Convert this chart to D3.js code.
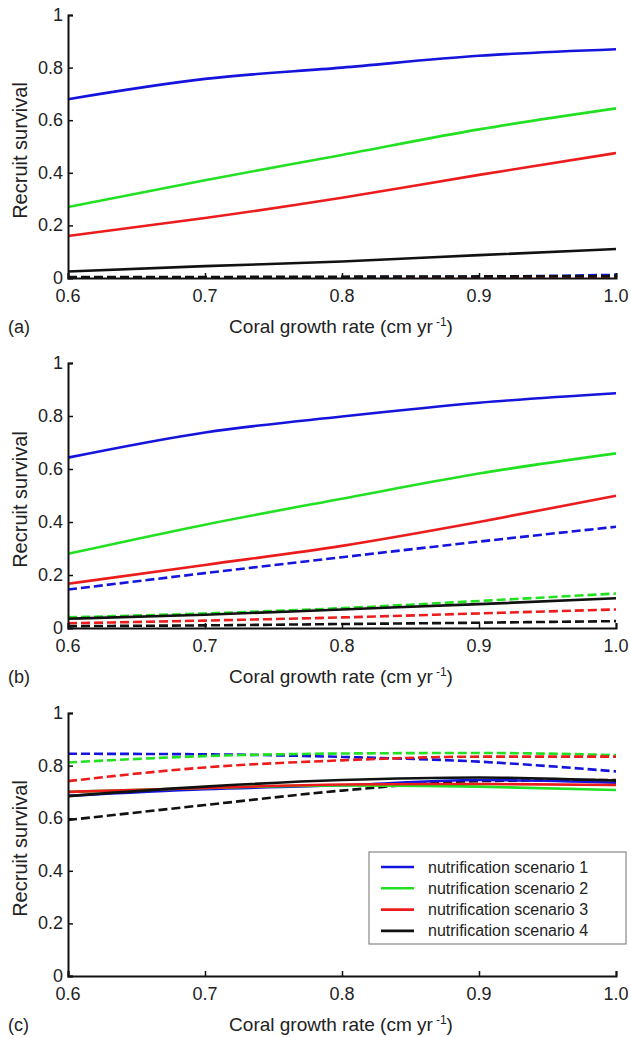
<!DOCTYPE html>
<html>
<head>
<meta charset="utf-8">
<script src="https://cdn.jsdelivr.net/npm/d3@7"></script>
<style>
  body { margin: 0; background: #fff; }
  text { font-family: "Liberation Sans", Arial, Helvetica, sans-serif; fill: #222; }
</style>
</head>
<body>
<svg id="chart" width="631" height="1037"></svg>
<script>
// growth rate samples (cm/yr)
const growth = [0.6, 0.7, 0.8, 0.9, 1.0];
const xTickLabels = ["0.6", "0.7", "0.8", "0.9", "1.0"];
const yTickValues = [0, 0.2, 0.4, 0.6, 0.8, 1];
const yTickLabels = ["0", "0.2", "0.4", "0.6", "0.8", "1"];
const scenarios = ["nutrification scenario 1", "nutrification scenario 2", "nutrification scenario 3", "nutrification scenario 4"];
const panelNames = ["(a)", "(b)", "(c)"];

// panel (a)
const aSolid = [
    [0.68, 0.757, 0.80, 0.845, 0.87],
    [0.27, 0.372, 0.468, 0.565, 0.645],
    [0.16, 0.228, 0.305, 0.392, 0.475],
    [0.025, 0.045, 0.063, 0.087, 0.11]
];
const aDashed = [
    [0.002, 0.002, 0.003, 0.005, 0.012],
    [0.001, 0.001, 0.002, 0.002, 0.003],
    [0.001, 0.001, 0.001, 0.002, 0.002],
    [0.004, 0.004, 0.005, 0.006, 0.007]
];
// panel (b)
const bSolid = [
    [0.643, 0.738, 0.798, 0.85, 0.886],
    [0.28, 0.39, 0.488, 0.583, 0.659],
    [0.167, 0.238, 0.31, 0.40, 0.499],
    [0.035, 0.05, 0.07, 0.09, 0.112]
];
const bDashed = [
    [0.145, 0.207, 0.267, 0.326, 0.382],
    [0.04, 0.055, 0.075, 0.102, 0.13],
    [0.018, 0.028, 0.04, 0.055, 0.07],
    [0.007, 0.01, 0.015, 0.02, 0.026]
];
// panel (c)
const cSolid = [
    [0.685, 0.71, 0.725, 0.745, 0.735],
    [0.70, 0.715, 0.725, 0.72, 0.707],
    [0.70, 0.715, 0.728, 0.73, 0.726],
    [0.684, 0.72, 0.745, 0.755, 0.743]
];
const cDashed = [
    [0.845, 0.843, 0.833, 0.815, 0.778],
    [0.812, 0.836, 0.846, 0.848, 0.84],
    [0.741, 0.793, 0.82, 0.834, 0.834],
    [0.593, 0.65, 0.705, 0.741, 0.745]
];

const panels = [
    {solid: aSolid, dashed: aDashed},
    {solid: bSolid, dashed: bDashed},
    {solid: cSolid, dashed: cDashed}
];

const colors = ["#1414dc", "#22e022", "#ec1c1c", "#111111"];
const panelTop = [15, 363, 713];
const panelHeight = [263, 265, 263];
const left = 68, right = 616;

const svg = d3.select("#chart");

const x = d3.scaleLinear().domain([0.6, 1.0]).range([left, right]);

const line = d3.line()
    .x((d, i) => x(growth[i]))
    .curve(d3.curveMonotoneX);

panels.forEach((p, k) => {
    const top = panelTop[k];
    const bottom = top + panelHeight[k];
    const y = d3.scaleLinear().domain([0, 1]).range([bottom, top]);
    line.y(d => y(d));

    const g = svg.append("g");

    // dashed first, solid on top (as the lines were drawn)
    p.dashed.forEach((vals, i) => {
        g.append("path")
            .attr("d", line(vals))
            .attr("fill", "none")
            .attr("stroke", colors[i])
            .attr("stroke-width", 2.6)
            .attr("stroke-dasharray", "9,4");
    });
    p.solid.forEach((vals, i) => {
        g.append("path")
            .attr("d", line(vals))
            .attr("fill", "none")
            .attr("stroke", colors[i])
            .attr("stroke-width", 2.6);
    });

    // axes, matlab style: ticks pointing inward
    const xAxis = d3.axisTop(x)
        .tickValues(growth)
        .tickSize(5)
        .tickFormat("");
    const yAxis = d3.axisRight(y)
        .tickValues(yTickValues)
        .tickSize(5)
        .tickFormat("");

    const xg = g.append("g").attr("transform", `translate(0,${bottom})`).call(xAxis);
    const yg = g.append("g").attr("transform", `translate(${left},0)`).call(yAxis);
    [xg, yg].forEach(a => {
        a.select(".domain").attr("stroke", "#111").attr("stroke-width", 2);
        a.selectAll(".tick line").attr("stroke", "#111").attr("stroke-width", 1.5);
    });

    // tick labels
    g.selectAll(".xlab")
        .data(growth)
        .join("text")
        .attr("x", d => x(d))
        .attr("y", bottom + 24)
        .attr("text-anchor", "middle")
        .attr("font-size", "18px")
        .text((d, i) => xTickLabels[i]);

    g.selectAll(".ylab")
        .data(yTickValues)
        .join("text")
        .attr("x", left - 5)
        .attr("y", d => y(d) + 6)
        .attr("text-anchor", "end")
        .attr("font-size", "18px")
        .text((d, i) => yTickLabels[i]);

    // axis titles
    const xt = g.append("text")
        .attr("x", 341)
        .attr("y", bottom + 55)
        .attr("text-anchor", "middle")
        .attr("font-size", "19px");
    xt.append("tspan").text("Coral growth rate (cm yr");
    xt.append("tspan").attr("dx", 3).attr("dy", -7).attr("font-size", "12px").text("-1");
    xt.append("tspan").attr("dy", 7).text(")");

    g.append("text")
        .attr("transform", `translate(27,${(top + bottom) / 2 + 4}) rotate(-90)`)
        .attr("text-anchor", "middle")
        .attr("font-size", "20px")
        .text("Recruit survival");

    g.append("text")
        .attr("x", 8)
        .attr("y", bottom + 55)
        .attr("font-size", "18px")
        .text(panelNames[k]);

    // legend only in the last panel
    if (k === 2) {
        const lg = g.append("g");
        lg.append("rect")
            .attr("x", 369).attr("y", 852)
            .attr("width", 257).attr("height", 92)
            .attr("fill", "#fff")
            .attr("stroke", "#888")
            .attr("stroke-width", 1.2);
        scenarios.forEach((s, i) => {
            const ly = 867 + i * 21.3;
            lg.append("line")
                .attr("x1", 381).attr("x2", 414)
                .attr("y1", ly).attr("y2", ly)
                .attr("stroke", colors[i])
                .attr("stroke-width", 2.6);
            lg.append("text")
                .attr("x", 428)
                .attr("y", ly + 5.5)
                .attr("font-size", "16px")
                .text(s);
        });
    }
});
</script>
</body>
</html>
